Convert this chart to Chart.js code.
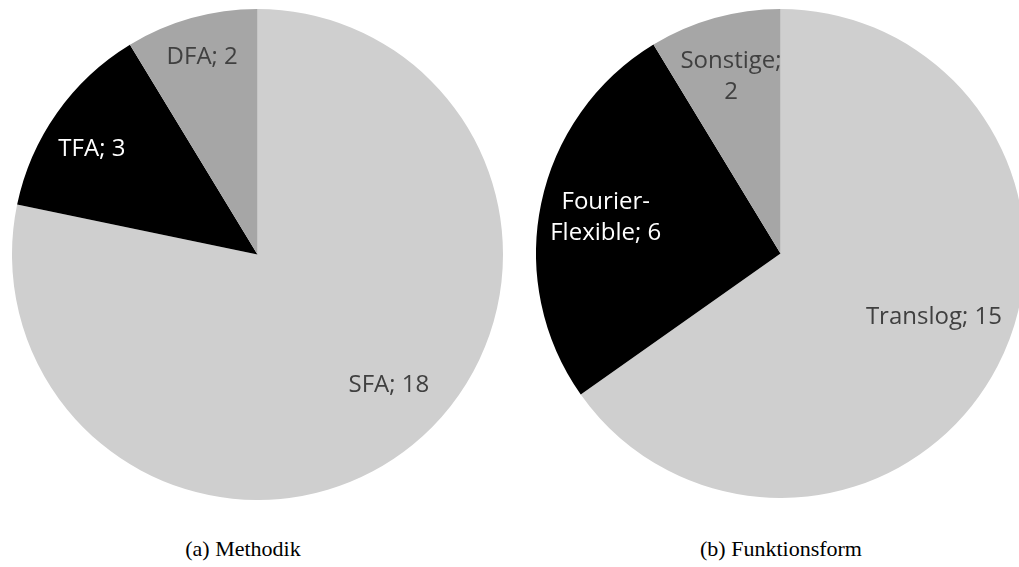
<!DOCTYPE html>
<html>
<head>
<meta charset="utf-8">
<script src="https://cdn.jsdelivr.net/npm/chart.js@4"></script>
<style>
  html, body { margin: 0; padding: 0; background: #fff; }
  body { width: 1019px; height: 567px; position: relative; overflow: hidden; }
  .pie { position: absolute; }
  .cap { position: absolute; top: 536px; font-family: "Liberation Serif", serif; font-size: 22px; line-height: 26px; color: #000; text-align: center; width: 300px; }
</style>
</head>
<body>
<div class="pie" id="boxA" style="left:12px; top:9px; width:491px; height:491px;"><canvas id="chartA"></canvas></div>
<div class="pie" id="boxB" style="left:536px; top:9px; width:489px; height:489px;"><canvas id="chartB"></canvas></div>
<div class="cap" style="left:93px;">(a) Methodik</div>
<div class="cap" style="left:631px;">(b) Funktionsform</div>
<script>
// Daten (a) Methodik
var methodikLabels = ["SFA", "TFA", "DFA"];
var methodikWerte = [18, 3, 2];
// Daten (b) Funktionsform
var formLabels = ["Translog", "Fourier-Flexible", "Sonstige"];
var formWerte = [15, 6, 2];

var farben = ["#cfcfcf", "#000000", "#a6a6a6"];
var textFarben = ["#404040", "#ffffff", "#404040"];

// Beschriftungen "Name; Wert" in den Segmenten
var segmentLabels = {
    id: "segmentLabels",
    afterDatasetsDraw: function (chart, args, opts) {
        var ctx = chart.ctx;
        var meta = chart.getDatasetMeta(0);
        var ds = chart.data.datasets[0];
        ctx.save();
        ctx.font = "24px 'Open Sans'";
        ctx.textAlign = "center";
        ctx.textBaseline = "middle";
        meta.data.forEach(function (arc, i) {
            var mid = (arc.startAngle + arc.endAngle) / 2 + opts.drehung[i] * Math.PI / 180;
            var r = arc.outerRadius * opts.abstand[i];
            var x = arc.x + Math.cos(mid) * r;
            var y = arc.y + Math.sin(mid) * r;
            var name = chart.data.labels[i];
            var zeilen;
            if (opts.umbruch[i]) {
                if (name.indexOf("-") > 0) {
                    zeilen = [name.slice(0, name.indexOf("-") + 1), name.slice(name.indexOf("-") + 1) + "; " + ds.data[i]];
                } else {
                    zeilen = [name + ";", String(ds.data[i])];
                }
            } else {
                zeilen = [name + "; " + ds.data[i]];
            }
            ctx.fillStyle = textFarben[i];
            var lh = 31;
            var y0 = y - (zeilen.length - 1) * lh / 2;
            zeilen.forEach(function (z, k) {
                ctx.fillText(z, x, y0 + k * lh);
            });
        });
        ctx.restore();
    }
};

function makePie(id, labels, werte, abstand, drehung, umbruch) {
    return new Chart(document.getElementById(id), {
        type: "pie",
        data: {
            labels: labels,
            datasets: [{
                data: werte,
                backgroundColor: farben,
                borderWidth: 0
            }]
        },
        options: {
            responsive: true,
            maintainAspectRatio: false,
            animation: false,
            layout: { padding: 0 },
            plugins: {
                legend: { display: false },
                tooltip: { enabled: false },
                segmentLabels: { abstand: abstand, drehung: drehung, umbruch: umbruch }
            }
        },
        plugins: [segmentLabels]
    });
}

makePie("chartA", methodikLabels, methodikWerte, [0.755, 0.8, 0.835], [-6, -2.7, 0], [false, false, false]);
makePie("chartB", formLabels, formWerte, [0.68, 0.73, 0.75], [-4.7, 0, 0], [false, true, true]);
</script>
</body>
</html>
